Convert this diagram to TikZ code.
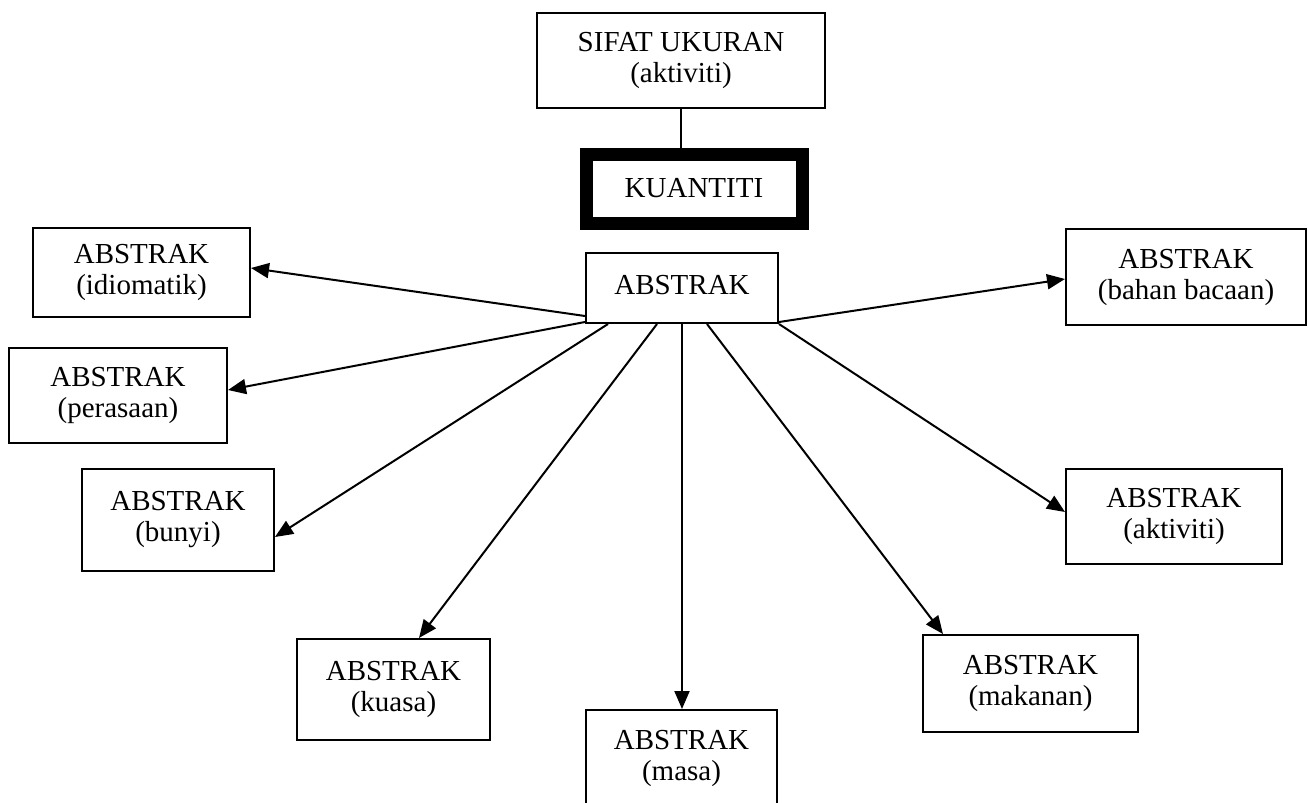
\documentclass[tikz,border=0pt]{standalone}
\usepackage{fontspec}
\setmainfont{Liberation Serif}
\usetikzlibrary{arrows.meta,calc}
\begin{document}
\begin{tikzpicture}[x=0.5pt,y=-0.5pt,
  box/.style={draw,line width=1pt,inner sep=0pt,align=center,font=\fontsize{14.5}{15.5}\selectfont},
  thickbox/.style={box,line width=6.5pt},
  sz/.style 2 args={minimum width=#1*0.5pt,minimum height=#2*0.5pt},
  arr/.style={-{Triangle[length=9pt,width=7.5pt]},line width=1pt},
  link/.style={line width=1pt}]
\useasboundingbox (0,0) rectangle (1308,803);
\clip (0,0) rectangle (1308,803);
\fill[white] (0,0) rectangle (1308,803);

\node[box,sz={288}{95}] (sifat) at (681,60.5) {SIFAT UKURAN\\(aktiviti)};
\node[thickbox,sz={216}{69}] (kuan) at (694,188.5) {KUANTITI};
\node[box,sz={192}{70}] (c) at (682,288) {\raisebox{3.5pt}{ABSTRAK}};
\node[box,sz={217}{89}] (idio) at (141.5,272.5) {ABSTRAK\\(idiomatik)};
\node[box,sz={218}{95}] (pera) at (118,395.5) {ABSTRAK\\(perasaan)};
\node[box,sz={192}{102}] (buny) at (178,520) {ABSTRAK\\(bunyi)};
\node[box,sz={193}{101}] (kuas) at (393.5,689.5) {ABSTRAK\\(kuasa)};
\node[box,sz={191}{96}] (masa) at (681.5,758) {ABSTRAK\\(masa)};
\node[box,sz={215}{97}] (maka) at (1030.5,683.5) {ABSTRAK\\(makanan)};
\node[box,sz={216}{95}] (akti) at (1174,516.5) {ABSTRAK\\(aktiviti)};
\node[box,sz={240}{96}] (baha) at (1186,277) {ABSTRAK\\(bahan bacaan)};

\draw[link] (sifat.south) -- (sifat.south |- kuan.north);

\draw[arr] ($(c.south west)+(0,-8)$) -- ($(idio.east)+(0,-4.5)$);
\draw[arr] ($(c.south west)+(0,-2)$) -- ($(pera.east)+(0,-5.5)$);
\draw[arr] ($(c.south west)+(23,0)$) -- ($(buny.east)+(0,17)$);
\draw[arr] ($(c.south west)+(72,0)$) -- ($(kuas.north)+(25.5,0)$);
\draw[arr] (c.south) -- (c.south |- masa.north);
\draw[arr] ($(c.south)+(25,0)$) -- ($(maka.north)+(-87.5,0)$);
\draw[arr] (c.south east) -- ($(akti.west)+(0,-4.5)$);
\draw[arr] ($(c.south east)+(0,-2)$) -- ($(baha.west)+(0,2)$);
\end{tikzpicture}
\end{document}
